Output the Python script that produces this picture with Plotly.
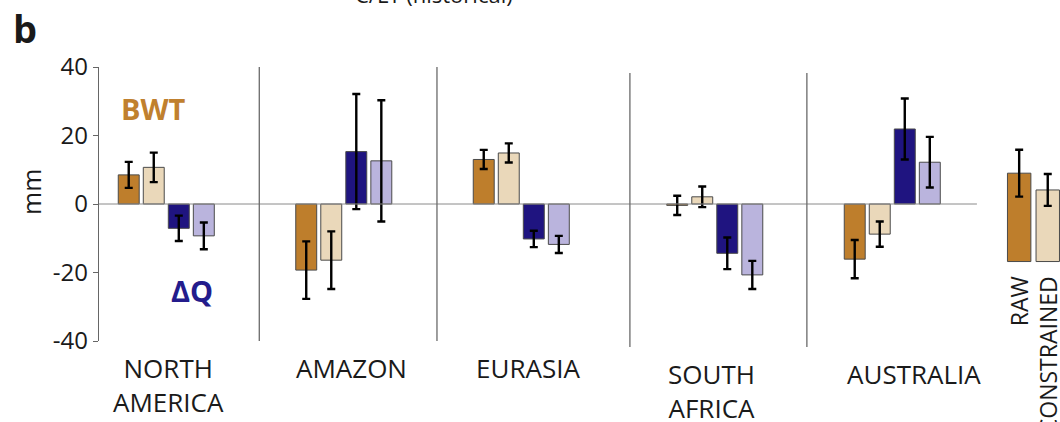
import plotly.graph_objects as go

# ---------------- data ----------------
regions = ["NORTH<br>AMERICA", "AMAZON", "EURASIA", "SOUTH<br>AFRICA", "AUSTRALIA"]
group_x = [0.0, 1.0, 2.0, 3.09, 4.09]          # group centres (irregular, as in the figure)

bwt_raw = [8.5, -19.3, 13.0, -0.4, -16.1]
bwt_raw_err = [3.8, 8.4, 2.8, 2.8, 5.6]
bwt_con = [10.7, -16.4, 14.9, 2.1, -8.8]
bwt_con_err = [4.3, 8.4, 2.8, 3.0, 3.7]
dq_raw = [-7.1, 15.3, -10.2, -14.4, 21.9]
dq_raw_err = [3.7, 16.8, 2.4, 4.6, 8.9]
dq_con = [-9.3, 12.6, -11.8, -20.7, 12.2]
dq_con_err = [3.9, 17.7, 2.5, 4.1, 7.4]

legend_labels = ["RAW", "CONSTRAINED"]
legend_x = [4.805, 4.966]
legend_height = [25.8, 20.9]
legend_base = [-16.8, -16.8]
legend_err = [6.85, 4.65]

y_ticks = [-40, -20, 0, 20, 40]
separators_x = [0.524, 1.525, 2.612, 3.609]

# ---------------- style ----------------
C_BWT_RAW = "#BE7E2C"
C_BWT_CON = "#EAD8BA"
C_DQ_RAW = "#1F1480"
C_DQ_CON = "#BAB4DD"
OUTLINE = "#4a4a4a"
FONT = "Open Sans"
TXT = "#1a1a1a"

pitch = 0.141
bar_w = 0.118

fig = go.Figure()

series = [
    (bwt_raw, bwt_raw_err, C_BWT_RAW, -1.5),
    (bwt_con, bwt_con_err, C_BWT_CON, -0.5),
    (dq_raw, dq_raw_err, C_DQ_RAW, 0.5),
    (dq_con, dq_con_err, C_DQ_CON, 1.5),
]
for vals, errs, col, k in series:
    fig.add_trace(go.Bar(
        x=[g + k * pitch for g in group_x], y=vals, width=bar_w,
        marker=dict(color=col, line=dict(color=OUTLINE, width=1)),
        error_y=dict(type="data", array=errs, visible=True,
                     color="black", thickness=2.4, width=4),
        showlegend=False,
    ))

fig.add_trace(go.Bar(
    x=legend_x, y=legend_height, base=legend_base, width=0.132,
    marker=dict(color=[C_BWT_RAW, C_BWT_CON], line=dict(color=OUTLINE, width=1)),
    error_y=dict(type="data", array=legend_err, visible=True,
                 color="black", thickness=2.4, width=4),
    showlegend=False,
))

W, H = 1060, 422
ML, MR, MT, MB = 99, 0, 67, 81
ph = H - MT - MB


def py(p):
    return (H - MB - p) / ph


def px(p):
    return (p - ML) / (W - ML - MR)


shapes = []
# zero line
shapes.append(dict(type="line", xref="x", yref="y", x0=-0.379, x1=4.567, y0=0, y1=0,
                   line=dict(color="#8a8a8a", width=1)))
sep_top = [py(67), py(67), py(73), py(73)]
sep_bot = [py(341), py(341), py(347), py(347)]
for sx, t, b in zip(separators_x, sep_top, sep_bot):
    shapes.append(dict(type="line", xref="x", yref="paper", x0=sx, x1=sx, y0=b, y1=t,
                       line=dict(color="#6a6a6a", width=1.3)))

annotations = []
label_x = [0.015, 1.046, 2.037, 3.069, 4.212]
label_y = [385, 367.5, 367.5, 390.5, 374]
for lab, lx, ly in zip(regions, label_x, label_y):
    annotations.append(dict(text=lab, x=lx, xref="x", y=py(ly), yref="paper",
                            xanchor="center", yanchor="middle", showarrow=False,
                            font=dict(family=FONT, size=26, color=TXT)))
for lab, lx in zip(legend_labels, legend_x):
    annotations.append(dict(text=lab, x=lx, xref="x", y=py(274), yref="paper",
                            xanchor="center", yanchor="top", textangle=-90, showarrow=False,
                            font=dict(family=FONT, size=23, color=TXT)))
annotations += [
    dict(text="<b>BWT</b>", x=px(153), y=py(108.5), xref="paper", yref="paper",
         xanchor="center", yanchor="middle", showarrow=False,
         font=dict(family=FONT, size=29, color="#C0802E")),
    dict(text="<b>ΔQ</b>", x=px(192), y=py(290), xref="paper", yref="paper",
         xanchor="center", yanchor="middle", showarrow=False,
         font=dict(family=FONT, size=29, color="#241C8C")),
    dict(text="mm", x=px(31), y=py(192), xref="paper", yref="paper",
         xanchor="center", yanchor="middle", textangle=-90, showarrow=False,
         font=dict(family=FONT, size=25, color=TXT)),
    dict(text="<b>b</b>", x=px(25), y=py(28), xref="paper", yref="paper",
         xanchor="center", yanchor="middle", showarrow=False,
         font=dict(family=FONT, size=38, color=TXT)),
    dict(text="C/LT (historical)", x=px(353), y=py(11), xref="paper", yref="paper",
         xanchor="left", yanchor="bottom", showarrow=False,
         font=dict(family=FONT, size=22, color=TXT)),
]

fig.update_layout(
    width=W, height=H,
    margin=dict(l=ML, r=MR, t=MT, b=MB, pad=0),
    paper_bgcolor="white", plot_bgcolor="white",
    barmode="overlay",
    shapes=shapes, annotations=annotations,
    xaxis=dict(range=[-0.379, 5.035], visible=False, fixedrange=True),
    yaxis=dict(range=[-40, 40], tickvals=y_ticks, ticktext=[str(v) for v in y_ticks],
               showgrid=False, zeroline=False, showline=True, linecolor="#666666",
               linewidth=1.4, ticks="outside", ticklen=5, tickwidth=1.4, tickcolor="#666666",
               tickfont=dict(family=FONT, size=24, color=TXT), fixedrange=True),
    showlegend=False,
)

fig.write_html("out.html", config={"displayModeBar": False},
               post_script="document.body.style.margin='0px';document.body.style.overflow='hidden';")
